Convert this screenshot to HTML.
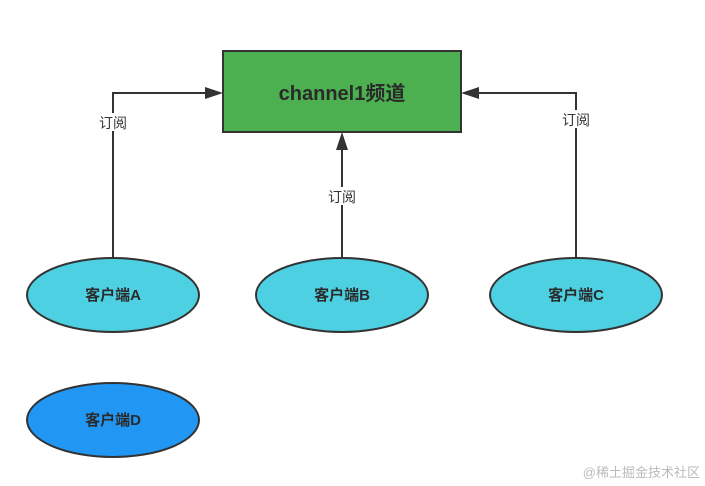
<!DOCTYPE html>
<html><head><meta charset="utf-8"><style>
html,body{margin:0;padding:0;background:#fff;width:705px;height:486px;overflow:hidden}
</style></head><body>
<svg width="705" height="486" xmlns="http://www.w3.org/2000/svg" style="font-family:'Liberation Sans','Noto Sans CJK SC',sans-serif">
<rect x="223" y="51" width="238" height="81" fill="#4caf50" stroke="#333" stroke-width="2"/>
<text x="342" y="100" text-anchor="middle" font-size="20" font-weight="bold" fill="#2a2a2a">channel1频道</text>
<g stroke="#333" stroke-width="2" fill="none">
<polyline points="113,258 113,93 208,93"/>
<polyline points="342,258 342,147"/>
<polyline points="576,258 576,93 476,93"/>
</g>
<g fill="#333">
<polygon points="223,93 205,87 205,99"/>
<polygon points="342,132 336,150 348,150"/>
<polygon points="461,93 479,87 479,99"/>
</g>
<g font-size="14" fill="#333" text-anchor="middle">
<rect x="98" y="113" width="30" height="18" fill="#fff"/>
<text x="113" y="128">订阅</text>
<rect x="327" y="187" width="30" height="18" fill="#fff"/>
<text x="342" y="202">订阅</text>
<rect x="561" y="110" width="30" height="18" fill="#fff"/>
<text x="576" y="125">订阅</text>
</g>
<g stroke="#333" stroke-width="2">
<ellipse cx="113" cy="295" rx="86" ry="37" fill="#4dd0e1"/>
<ellipse cx="342" cy="295" rx="86" ry="37" fill="#4dd0e1"/>
<ellipse cx="576" cy="295" rx="86" ry="37" fill="#4dd0e1"/>
<ellipse cx="113" cy="420" rx="86" ry="37" fill="#2196f3"/>
</g>
<g font-size="15" font-weight="bold" fill="#2a2a2a" text-anchor="middle">
<text x="113" y="300">客户端A</text>
<text x="342" y="300">客户端B</text>
<text x="576" y="300">客户端C</text>
<text x="113" y="425">客户端D</text>
</g>
<text x="700" y="477" text-anchor="end" font-size="13" fill="#bbb">@稀土掘金技术社区</text>
</svg>
</body></html>
